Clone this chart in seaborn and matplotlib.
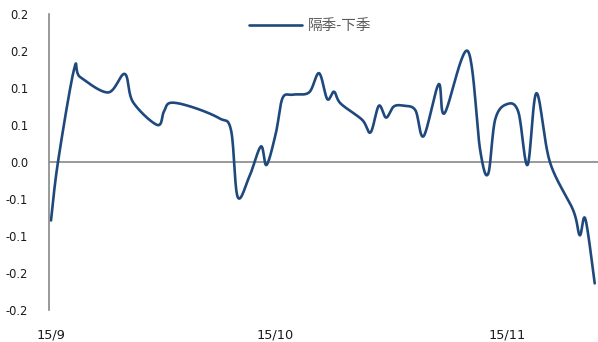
import numpy as np
import pandas as pd
import matplotlib
matplotlib.use("Agg")
import matplotlib.pyplot as plt
import seaborn as sns

# Spread series: day offset from 2015-09-01 and spread value
day_offset = [0.0, 0.93, 3.1, 3.87, 7.64, 9.87, 10.97, 14.23, 15.1, 16.0,
              18.97, 22.53, 24.09, 24.97, 26.53, 28.09, 28.84, 30.09, 30.97,
              32.3, 34.53, 35.87, 36.97, 37.87, 38.76, 41.64, 42.76, 43.87,
              44.84, 45.87, 47.2, 48.76, 49.87, 51.87, 52.67, 55.77, 57.43,
              58.5, 59.43, 60.97, 62.53, 63.77, 64.97, 66.76, 69.87, 70.76,
              71.51, 72.76]
spread = [-0.079, 0.000, 0.126, 0.115, 0.094, 0.119, 0.081, 0.050, 0.068, 0.080,
          0.074, 0.059, 0.043, -0.047, -0.020, 0.021, -0.004, 0.039, 0.086,
          0.091, 0.094, 0.120, 0.085, 0.095, 0.079, 0.057, 0.040, 0.076,
          0.060, 0.075, 0.076, 0.070, 0.035, 0.105, 0.066, 0.150, 0.016,
          -0.016, 0.057, 0.078, 0.068, -0.004, 0.093, 0.000, -0.065, -0.099,
          -0.077, -0.164]
series_name = "隔季-下季"

month_ticks = [0, 30, 61]
month_labels = ["15/9", "15/10", "15/11"]
y_ticks = [0.2, 0.15, 0.1, 0.05, 0.0, -0.05, -0.1, -0.15, -0.2]
y_tick_labels = ["0.2", "0.2", "0.1", "0.1", "0.0", "-0.1", "-0.1", "-0.2", "-0.2"]


def smooth_curve(xs, ys, steps=24):
    """Cardinal (Catmull-Rom style) Bezier smoothing through the points."""
    p = np.column_stack([xs, ys]).astype(float)
    ext = np.vstack([p[0], p, p[-1]])
    out = [p[:1]]
    t = np.linspace(0, 1, steps + 1)[1:, None]
    for i in range(len(p) - 1):
        p0, p1, p2, p3 = ext[i], ext[i + 1], ext[i + 2], ext[i + 3]
        c1 = p1 + (p2 - p0) / 6.0
        c2 = p2 - (p3 - p1) / 6.0
        seg = ((1 - t) ** 3) * p1 + 3 * ((1 - t) ** 2) * t * c1 \
            + 3 * (1 - t) * t ** 2 * c2 + t ** 3 * p2
        out.append(seg)
    return np.vstack(out)


sns.set_style("white")
plt.rcParams["font.family"] = ["DejaVu Sans"]

fig = plt.figure(figsize=(5.98, 3.42), dpi=100)
ax = fig.add_axes([49 / 598, 1 - 310 / 342, 1 - 49 / 598, (310 - 14) / 342])

curve = smooth_curve(day_offset, spread)
df = pd.DataFrame({"day": curve[:, 0], "value": curve[:, 1], "series": series_name})
sns.lineplot(data=df, x="day", y="value", hue="series", sort=False, estimator=None,
             palette=["#1F497D"], linewidth=1.9, ax=ax)

axis_grey = "#878787"
ax.axhline(0, color=axis_grey, linewidth=1.2, zorder=1)

ax.set_xlim(-0.27, 73.2)
ax.set_ylim(-0.2, 0.2)
ax.set_yticks(y_ticks)
ax.set_yticklabels(y_tick_labels)
ax.set_xticks(month_ticks)
ax.set_xticklabels(month_labels)

for side in ["top", "right", "bottom"]:
    ax.spines[side].set_visible(False)
ax.spines["left"].set_color(axis_grey)
ax.spines["left"].set_linewidth(1.2)

ax.tick_params(axis="y", direction="in", length=3, width=1.1, color=axis_grey,
               pad=15, labelsize=8.3, labelcolor="#1a1a1a")
ax.tick_params(axis="x", length=0, pad=13, labelsize=9.3, labelcolor="#1a1a1a")
ax.set_xlabel("")
ax.set_ylabel("")

leg = ax.legend(loc="center", bbox_to_anchor=(310 / 598, 1 - 26 / 342),
                bbox_transform=fig.transFigure, frameon=False, handlelength=3.6,
                handletextpad=0.4, borderpad=0,
                prop={"family": ["Noto Sans CJK SC", "DejaVu Sans"], "size": 10.5})
for txt in leg.get_texts():
    txt.set_color("#595959")
for line in leg.get_lines():
    line.set_linewidth(1.9)

fig.savefig("out.png", dpi=100)
